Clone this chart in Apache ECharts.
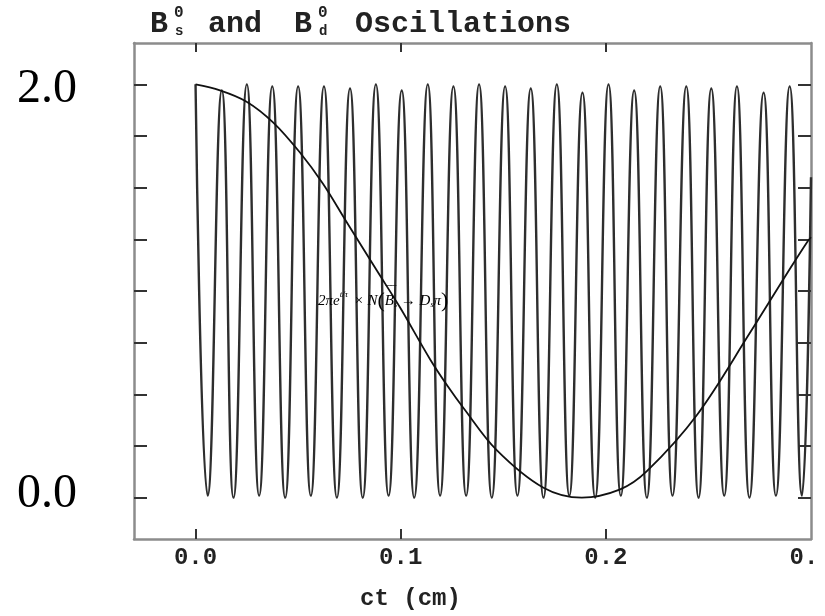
<!DOCTYPE html>
<html>
<head>
<meta charset="utf-8">
<script src="https://cdn.jsdelivr.net/npm/echarts@6/dist/echarts.min.js"></script>
<style>
  html, body { margin: 0; padding: 0; background: #fff; }
  #chart { width: 825px; height: 616px; }
</style>
</head>
<body>
<div id="chart"></div>
<script>
// fast oscillation (B_s): crest and trough positions, ct in cm
var fastPeakX = [0.0000, 0.0128, 0.0250, 0.0374, 0.0500, 0.0626, 0.0753, 0.0879, 0.1005, 0.1132,
  0.1257, 0.1382, 0.1509, 0.1634, 0.1761, 0.1886, 0.2013, 0.2138, 0.2265, 0.2392,
  0.2514, 0.2639, 0.2769, 0.2896];
var fastPeakY = [2.00, 1.97, 2.00, 1.99, 1.99, 1.99, 1.98, 2.00, 1.97, 2.00,
  1.99, 2.00, 1.99, 1.98, 2.00, 1.96, 2.00, 1.97, 1.99, 1.99,
  1.98, 1.99, 1.96, 1.99];
var fastTroughX = [0.0059, 0.0185, 0.0310, 0.0437, 0.0562, 0.0689, 0.0815, 0.0941, 0.1066, 0.1192,
  0.1319, 0.1444, 0.1569, 0.1696, 0.1822, 0.1948, 0.2073, 0.2200, 0.2325, 0.2452,
  0.2577, 0.2700, 0.2829, 0.2956];
var fastTroughY = [0.01, 0.00, 0.01, 0.00, 0.01, 0.00, 0.00, 0.01, 0.00, 0.01,
  0.01, 0.00, 0.01, 0.00, 0.01, 0.00, 0.01, 0.00, 0.01, 0.00,
  0.01, 0.00, 0.01, 0.01];
var fastEnd = [0.3, 1.55];

// slow oscillation (B_d)
var slowX = [0.0, 0.0119, 0.0249, 0.0379, 0.0509, 0.0622, 0.0737, 0.0883, 0.0997, 0.1143,
  0.1232, 0.1305, 0.1468, 0.1696, 0.1883, 0.2070, 0.2200, 0.2444, 0.2704, 0.2899, 0.2980, 0.3];
var slowY = [2.00, 1.971, 1.916, 1.815, 1.670, 1.518, 1.333, 1.100, 0.920, 0.670,
  0.535, 0.435, 0.230, 0.048, 0.000, 0.040, 0.128, 0.400, 0.800, 1.110, 1.235, 1.260];

var xTicks = [0, 0.1, 0.2];
var xLabels = [0, 0.1, 0.2, 0.3];
var yTicks = [0, 0.25, 0.5, 0.75, 1.0, 1.25, 1.5, 1.75, 2.0];
var yLabels = [0, 2.0];

var fastData = [];
for (var i = 0; i < fastPeakX.length; i++) {
  fastData.push([fastPeakX[i], fastPeakY[i]]);
  fastData.push([fastTroughX[i], fastTroughY[i]]);
}
fastData.push(fastEnd);

var slowData = slowX.map(function (x, i) { return [x, slowY[i]]; });

var mono = "'Liberation Mono', 'DejaVu Sans Mono', monospace";
var serif = "'Liberation Serif', 'DejaVu Serif', serif";
var frame = { show: true, onZero: false, lineStyle: { color: '#8c8c8c', width: 2.5 } };
var tick = function (vals, len) {
  return { show: true, inside: true, length: len, customValues: vals,
    lineStyle: { color: '#333', width: 2 } };
};

var myChart = echarts.init(document.getElementById('chart'));
var option = {
  animation: false,
  backgroundColor: '#fff',
  grid: { left: 134, right: 14, top: 43, bottom: 76, containLabel: false },
  xAxis: [{
    type: 'value', position: 'bottom', min: -0.03, max: 0.3,
    axisLine: frame, axisTick: tick(xTicks, 10), splitLine: { show: false },
    axisLabel: {
      customValues: xLabels, margin: 7, color: '#222',
      fontFamily: mono, fontWeight: 'bold', fontSize: 24,
      formatter: function (v) { return v > 0.25 ? '{e|0.}' : v.toFixed(1); },
      rich: { e: { fontFamily: mono, fontWeight: 'bold', fontSize: 24, color: '#222', padding: [0, 14, 0, 0] } }
    },
    name: 'ct (cm)', nameLocation: 'middle', nameGap: 48,
    nameTextStyle: { fontFamily: mono, fontWeight: 'bold', fontSize: 24, color: '#222', padding: [0, 124, 0, 0] }
  }, {
    type: 'value', position: 'top', min: -0.03, max: 0.3,
    axisLine: frame, axisTick: tick(xTicks, 9), axisLabel: { show: false }, splitLine: { show: false }
  }],
  yAxis: [{
    type: 'value', position: 'left', min: -0.2, max: 2.2,
    axisLine: frame, axisTick: tick(yTicks, 13), splitLine: { show: false },
    axisLabel: {
      customValues: yLabels, margin: 57,
      formatter: function (v) { return v > 1 ? '{a|2.0}' : '{b|0.0}'; },
      rich: {
        a: { fontFamily: serif, fontSize: 48, color: '#000', padding: [10, 0, 0, 0] },
        b: { fontFamily: serif, fontSize: 48, color: '#000', padding: [0, 0, 6, 0] }
      }
    }
  }, {
    type: 'value', position: 'right', min: -0.2, max: 2.2,
    axisLine: frame, axisTick: tick(yTicks, 13), axisLabel: { show: false }, splitLine: { show: false }
  }],
  graphic: [
    { type: 'text', x: 150, y: 24, style: { text: 'B', font: 'bold 30px ' + mono, fill: '#222', align: 'left', verticalAlign: 'middle' } },
    { type: 'text', x: 174, y: 13, style: { text: '0', font: 'bold 16px ' + mono, fill: '#222', align: 'left', verticalAlign: 'middle' } },
    { type: 'text', x: 175, y: 31, style: { text: 's', font: 'bold 14px ' + mono, fill: '#222', align: 'left', verticalAlign: 'middle' } },
    { type: 'text', x: 208, y: 24, style: { text: 'and', font: 'bold 30px ' + mono, fill: '#222', align: 'left', verticalAlign: 'middle' } },
    { type: 'text', x: 294, y: 24, style: { text: 'B', font: 'bold 30px ' + mono, fill: '#222', align: 'left', verticalAlign: 'middle' } },
    { type: 'text', x: 318, y: 13, style: { text: '0', font: 'bold 16px ' + mono, fill: '#222', align: 'left', verticalAlign: 'middle' } },
    { type: 'text', x: 319, y: 31, style: { text: 'd', font: 'bold 14px ' + mono, fill: '#222', align: 'left', verticalAlign: 'middle' } },
    { type: 'text', x: 355, y: 24, style: { text: 'Oscillations', font: 'bold 30px ' + mono, fill: '#222', align: 'left', verticalAlign: 'middle' } },
    {
      type: 'text', x: 318, y: 301, z: 100,
      style: {
        text: '{m|2πe}{sup|t/τ}{m| × N}{p|(}{m|B}{sub|s}{m| → D}{sub|s}{m|π}{p|)}',
        align: 'left', verticalAlign: 'middle', fill: '#000',
        rich: {
          m: { fontFamily: serif, fontStyle: 'italic', fontSize: 15, fill: '#000' },
          sup: { fontFamily: serif, fontStyle: 'italic', fontSize: 9, fill: '#000', padding: [0, 2, 12, 0] },
          sub: { fontFamily: serif, fontStyle: 'italic', fontSize: 8, fill: '#000', padding: [8, 0, 0, 0] },
          p: { fontFamily: serif, fontSize: 22, fill: '#000' }
        }
      }
    },
    { type: 'text', x: 386, y: 286, z: 100, style: { text: '\u203E\u203E', font: '15px ' + serif, fill: '#000', align: 'left', verticalAlign: 'top' } }
  ],
  series: [{
    name: 'Bs', type: 'line', xAxisIndex: 0, yAxisIndex: 0,
    data: fastData, smooth: 0.5, showSymbol: false,
    lineStyle: { color: '#2e2e2e', width: 2.4 }
  }, {
    name: 'Bd', type: 'line', xAxisIndex: 0, yAxisIndex: 0,
    data: slowData, smooth: 0.35, showSymbol: false,
    lineStyle: { color: '#111', width: 1.8 }
  }]
};
myChart.setOption(option);
</script>
</body>
</html>
